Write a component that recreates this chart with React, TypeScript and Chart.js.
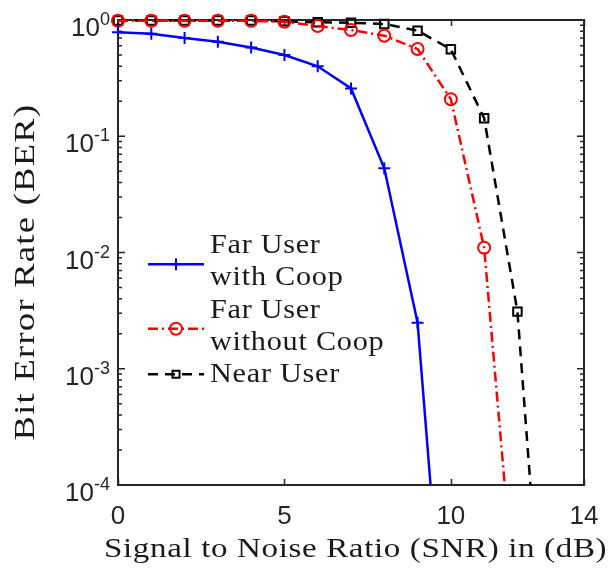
import { useEffect, useRef } from 'react';
import { Chart, registerables } from 'chart.js';

Chart.register(...registerables);

// ---- data ----
const snr = [0, 1, 2, 3, 4, 5, 6, 7, 8, 9, 10, 11, 12, 13];
const farUserCoop = [0.784, 0.76, 0.70, 0.65, 0.58, 0.50, 0.40, 0.258, 0.053, 0.00249, 6.6e-7];
const farUserNoCoop = [0.986, 0.986, 0.986, 0.986, 0.986, 0.967, 0.888, 0.82, 0.733, 0.563, 0.208, 0.011, 5.6e-6];
const nearUser = [0.99, 0.99, 0.99, 0.99, 0.99, 0.975, 0.955, 0.948, 0.924, 0.81, 0.56, 0.143, 0.0031, 4.7e-7];

const seriesLabels = ['Far User with Coop', 'Far User without Coop', 'Near User'];
const legendLines = [['Far User', 'with Coop'], ['Far User', 'without Coop'], ['Near User']];
const xTickValues = [0, 5, 10, 14];
const yTickExponents = [0, -1, -2, -3, -4];
const xTitle = 'Signal to Noise Ratio (SNR) in (dB)';
const yTitle = 'Bit Error Rate (BER)';

const FRAME = '#262626';
const SERIF = '"Liberation Serif", "Times New Roman", serif';
const SANS = '"Liberation Sans", Arial, sans-serif';

function toPoints(vals: number[]) {
  return vals.map((v, i) => ({ x: snr[i], y: v }));
}

function drawMarker(ctx: CanvasRenderingContext2D, style: string, x: number, y: number, r: number, color: string, lw: number) {
  ctx.save();
  ctx.setLineDash([]);
  ctx.strokeStyle = color;
  ctx.lineWidth = lw;
  ctx.beginPath();
  if (style === 'cross') {
    ctx.moveTo(x - r, y); ctx.lineTo(x + r, y);
    ctx.moveTo(x, y - r); ctx.lineTo(x, y + r);
  } else if (style === 'circle') {
    ctx.arc(x, y, r, 0, Math.PI * 2);
  } else if (style === 'rect') {
    const s = r * Math.SQRT1_2;
    ctx.rect(x - s, y - s, 2 * s, 2 * s);
  }
  ctx.stroke();
  ctx.restore();
}

// draws text widened to a target width: mild horizontal scale plus letter spacing
function wideText(ctx: CanvasRenderingContext2D, text: string, x: number, y: number, targetWidth: number, maxK: number, align: CanvasTextAlign) {
  ctx.save();
  (ctx as any).letterSpacing = '0px';
  const w = ctx.measureText(text).width;
  const k = Math.min(targetWidth / w, maxK);
  const extra = Math.max(0, (targetWidth / k - w) / text.length);
  (ctx as any).letterSpacing = `${extra.toFixed(2)}px`;
  ctx.translate(x, y);
  ctx.scale(k, 1);
  ctx.textAlign = 'left';
  let startX = 0;
  const full = w + extra * text.length;
  if (align === 'center') startX = -full / 2;
  else if (align === 'right') startX = -full;
  ctx.fillText(text, startX, 0);
  ctx.restore();
}

const matlabAxes = {
  id: 'matlabAxes',
  beforeDatasetsDraw(chart: any) {
    const { ctx, chartArea: a, scales } = chart;
    const x = scales.x, y = scales.y;
    ctx.save();
    ctx.strokeStyle = FRAME;
    ctx.lineWidth = 1.5;
    ctx.beginPath();
    for (const v of xTickValues) {
      const px = Math.round(x.getPixelForValue(v)) + 0.5;
      ctx.moveTo(px, a.bottom); ctx.lineTo(px, a.bottom - 6);
      ctx.moveTo(px, a.top); ctx.lineTo(px, a.top + 6);
    }
    for (const e of yTickExponents) {
      const py = y.getPixelForValue(Math.pow(10, e));
      ctx.moveTo(a.left, py); ctx.lineTo(a.left + 7, py);
      ctx.moveTo(a.right, py); ctx.lineTo(a.right - 7, py);
      if (e > yTickExponents[yTickExponents.length - 1]) {
        for (let m = 2; m <= 9; m++) {
          const pm = y.getPixelForValue(m * Math.pow(10, e - 1));
          ctx.moveTo(a.left, pm); ctx.lineTo(a.left + 4, pm);
          ctx.moveTo(a.right, pm); ctx.lineTo(a.right - 4, pm);
        }
      }
    }
    ctx.stroke();
    ctx.lineWidth = 2;
    ctx.strokeRect(a.left, a.top, a.right - a.left, a.bottom - a.top);
    ctx.restore();
  },
  afterDraw(chart: any) {
    const { ctx, chartArea: a, scales } = chart;
    const x = scales.x, y = scales.y;
    ctx.save();
    ctx.fillStyle = '#262626';
    // x tick labels
    ctx.font = `26px ${SANS}`;
    ctx.textAlign = 'center';
    ctx.textBaseline = 'alphabetic';
    for (const v of xTickValues) {
      ctx.fillText(String(v), x.getPixelForValue(v), a.bottom + 39);
    }
    // y tick labels 10^e
    for (const e of yTickExponents) {
      const py = y.getPixelForValue(Math.pow(10, e));
      ctx.font = `18px ${SANS}`;
      const exp = String(e);
      const ew = ctx.measureText(exp).width;
      ctx.textAlign = 'right';
      ctx.fillText(exp, a.left - 8, py + 5);
      ctx.font = `26px ${SANS}`;
      ctx.fillText('10', a.left - 8 - ew, py + 16);
    }
    // titles
    ctx.fillStyle = '#1a1a1a';
    ctx.textBaseline = 'alphabetic';
    ctx.font = `28px ${SERIF}`;
    wideText(ctx, xTitle, 355.5, 557, 503, 1.18, 'center');
    ctx.save();
    ctx.font = `30px ${SERIF}`;
    ctx.translate(34, 272);
    ctx.rotate(-Math.PI / 2);
    wideText(ctx, yTitle, 0, 0, 337, 1.22, 'center');
    ctx.restore();

    // legend
    const lx0 = 148, lx1 = 204, tx = 210;
    let base = 253;
    const step = 32.3;
    chart.data.datasets.forEach((ds: any, i: number) => {
      const lines = legendLines[i];
      const first = base;
      const last = base + step * (lines.length - 1);
      const ly = lines.length > 1 ? (first + last) / 2 - 5 : first - 8;
      ctx.save();
      ctx.strokeStyle = ds.borderColor;
      ctx.lineWidth = ds.borderWidth;
      ctx.setLineDash(ds.borderDash || []);
      ctx.beginPath();
      ctx.moveTo(lx0, ly); ctx.lineTo(lx1, ly);
      ctx.stroke();
      ctx.restore();
      const mr = ds.pointStyle === 'rect' ? 5 : ds.pointRadius;
      drawMarker(ctx, ds.pointStyle, (lx0 + lx1) / 2, ly, mr, ds.pointBorderColor, ds.pointBorderWidth);
      ctx.fillStyle = '#1a1a1a';
      ctx.font = `27px ${SERIF}`;
      lines.forEach((t: string, j: number) => {
        ctx.save();
        (ctx as any).letterSpacing = '0px';
        const w = ctx.measureText(t).width;
        ctx.restore();
        wideText(ctx, t, tx, base + step * j, w * 1.18, 1.12, 'left');
      });
      base = last + step;
    });
    ctx.restore();
  },
};

export default function App() {
  const ref = useRef<HTMLCanvasElement | null>(null);
  useEffect(() => {
    if (!ref.current) return;
    const mk = (label: string, data: number[], color: string, dash: number[], style: string, r: number) => ({
      label,
      data: toPoints(data),
      borderColor: color,
      backgroundColor: 'rgba(0,0,0,0)',
      borderWidth: 2.5,
      borderDash: dash,
      pointStyle: style,
      pointRadius: r,
      pointBorderColor: color,
      pointBackgroundColor: 'rgba(0,0,0,0)',
      pointBorderWidth: 2,
      tension: 0,
      clip: { left: 10, top: 10, right: 10, bottom: 0 },
    });
    const chart = new Chart(ref.current, {
      type: 'line',
      data: {
        datasets: [
          mk(seriesLabels[0], farUserCoop, '#0000ff', [], 'cross', 6),
          mk(seriesLabels[1], farUserNoCoop, '#ff0000', [10, 4, 2, 4], 'circle', 6),
          mk(seriesLabels[2], nearUser, '#000000', [10, 7], 'rect', 6),
        ] as any,
      },
      options: {
        animation: false,
        responsive: false,
        events: [],
        layout: { padding: { left: 118, right: 31, top: 20, bottom: 85 } },
        plugins: { legend: { display: false }, tooltip: { enabled: false } },
        scales: {
          x: {
            type: 'linear', min: 0, max: 14,
            grid: { display: false, drawTicks: false }, border: { display: false },
            ticks: { display: false },
            afterFit: (s: any) => { s.height = 0; },
          },
          y: {
            type: 'logarithmic', min: 1e-4, max: 1,
            grid: { display: false, drawTicks: false }, border: { display: false },
            ticks: { display: false },
            afterFit: (s: any) => { s.width = 0; },
          },
        },
      },
      plugins: [matlabAxes],
    });
    return () => chart.destroy();
  }, []);
  return (
    <div style={{ position: 'absolute', left: 0, top: 0, width: 615, height: 570, background: '#fff' }}>
      <canvas ref={ref} width={615} height={570} />
    </div>
  );
}
